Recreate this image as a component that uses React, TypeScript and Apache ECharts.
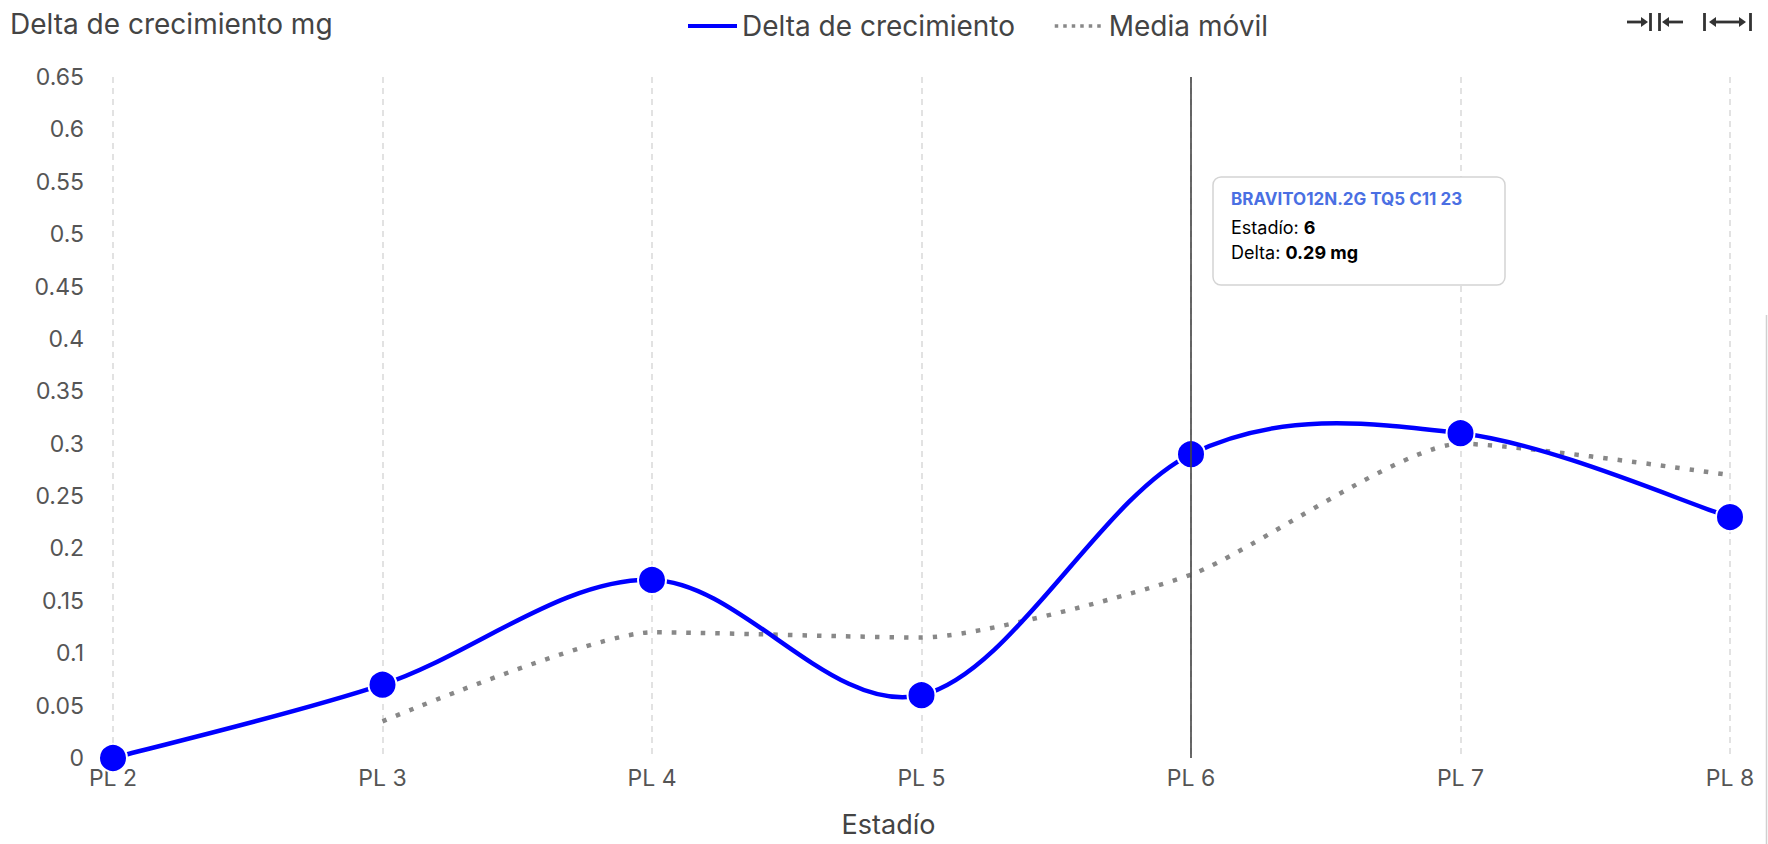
import React, { useEffect, useRef } from "react";
import * as echarts from "echarts";

// Growth stages on the x axis
const categories = ["PL 2", "PL 3", "PL 4", "PL 5", "PL 6", "PL 7", "PL 8"];
// Growth delta per stage (mg)
const deltaValues = [0, 0.07, 0.17, 0.06, 0.29, 0.31, 0.23];
// Two-point moving average of the delta (no value for the first stage)
const movingAvgValues = [null, 0.035, 0.12, 0.115, 0.175, 0.3, 0.27];

const yMin = 0;
const yMax = 0.65;
const yInterval = 0.05;

// Point shown in the pinned tooltip
const focusIndex = 4;
const lotName = "BRAVITO12N.2G TQ5 C11 23";

const FONT = "Inter, 'DM Sans', 'Noto Sans', sans-serif";
const BLUE = "#0000ff";
const GRAY = "#888888";
const TEXT = "#444";

// Catmull-Rom spline through pixel points, written as cubic Bézier path data
function catmullRomPath(pts: number[][]): string {
  if (!pts.length) return "";
  let d = `M${pts[0][0]},${pts[0][1]}`;
  for (let i = 0; i < pts.length - 1; i++) {
    const p0 = pts[Math.max(i - 1, 0)];
    const p1 = pts[i];
    const p2 = pts[i + 1];
    const p3 = pts[Math.min(i + 2, pts.length - 1)];
    const c1x = p1[0] + (p2[0] - p0[0]) / 6;
    const c1y = p1[1] + (p2[1] - p0[1]) / 6;
    const c2x = p2[0] - (p3[0] - p1[0]) / 6;
    const c2y = p2[1] - (p3[1] - p1[1]) / 6;
    d += ` C${c1x},${c1y} ${c2x},${c2y} ${p2[0]},${p2[1]}`;
  }
  return d;
}

export default function App() {
  const ref = useRef<HTMLDivElement>(null);

  useEffect(() => {
    if (!ref.current) return;
    const chart = echarts.init(ref.current, null, { renderer: "svg" });

    const option: any = {
      animation: false,
      backgroundColor: "#fff",
      textStyle: { fontFamily: FONT },
      title: {
        text: "Delta de crecimiento mg",
        left: 5,
        top: 5,
        textStyle: { fontFamily: FONT, fontSize: 28, fontWeight: "normal", color: TEXT },
      },
      legend: {
        left: 681,
        top: 7,
        itemWidth: 49,
        itemHeight: 14,
        itemGap: 38,
        textStyle: { fontFamily: FONT, fontSize: 28, color: TEXT },
        data: [
          {
            name: "Delta de crecimiento",
            itemStyle: { opacity: 0 },
            lineStyle: { width: 4, color: BLUE, opacity: 1 },
          },
          {
            name: "Media móvil",
            itemStyle: { opacity: 0 },
            lineStyle: { width: 3.5, color: GRAY, type: [3.5, 5], opacity: 1 },
          },
        ],
      },
      grid: { left: 113, right: 38, top: 77, bottom: 86, containLabel: false },
      xAxis: {
        type: "category",
        data: categories,
        boundaryGap: false,
        name: "Estadío",
        nameLocation: "middle",
        nameGap: 53,
        nameTextStyle: { fontFamily: FONT, fontSize: 27, color: TEXT, padding: [0, 66, 0, 0] },
        axisLine: { show: false },
        axisTick: { show: false },
        axisLabel: { fontFamily: FONT, fontSize: 23, color: "#555", margin: 8 },
        splitLine: {
          show: true,
          lineStyle: { color: "#d9d9d9", width: 1.5, type: [6, 5] },
        },
      },
      yAxis: {
        type: "value",
        min: yMin,
        max: yMax,
        interval: yInterval,
        axisLine: { show: false },
        axisTick: { show: false },
        splitLine: { show: false },
        axisLabel: { fontFamily: FONT, fontSize: 23, color: "#555", margin: 29 },
      },
      series: [
        {
          name: "Media móvil",
          type: "line",
          data: movingAvgValues,
          smooth: 0.2,
          symbol: "none",
          connectNulls: false,
          lineStyle: { color: GRAY, width: 4.5, type: [4.5, 10] },
          itemStyle: { color: GRAY },
          markLine: {
            silent: true,
            symbol: "none",
            label: { show: false },
            lineStyle: { color: "#444", width: 1.6, type: "solid" },
            data: [{ xAxis: categories[focusIndex] }],
          },
          z: 2,
        },
        // markers of the delta series (its curve is drawn by the custom series below)
        {
          name: "Delta de crecimiento",
          type: "line",
          data: deltaValues,
          symbol: "circle",
          symbolSize: 28,
          lineStyle: { color: BLUE, width: 0, opacity: 0 },
          itemStyle: { color: BLUE, borderColor: "#fff", borderWidth: 2 },
          z: 4,
        },
        {
          name: "Delta de crecimiento",
          type: "custom",
          silent: true,
          z: 3,
          encode: { x: 0, y: 1 },
          data: deltaValues.map((v, i) => [i, v]),
          renderItem: (params: any, api: any) => {
            if (params.dataIndex !== 0) return null;
            const pts = deltaValues.map((v, i) => api.coord([i, v]));
            return {
              type: "path",
              shape: { pathData: catmullRomPath(pts) },
              style: { fill: "none", stroke: BLUE, lineWidth: 4.5, lineJoin: "round", lineCap: "round" },
            };
          },
        },
      ],
    };

    chart.setOption(option);

    // Pin the tooltip next to the focused stage
    const [px] = chart.convertToPixel({ xAxisIndex: 0, yAxisIndex: 0 }, [
      categories[focusIndex],
      deltaValues[focusIndex],
    ]) as number[];
    const stageNumber = categories[focusIndex].replace("PL ", "");

    const arrowColor = "#333";
    const stroke = { stroke: arrowColor, lineWidth: 2.8 };

    chart.setOption({
      graphic: [
        {
          type: "group",
          x: px + 22,
          y: 177,
          z: 100,
          children: [
            {
              type: "rect",
              shape: { x: 0, y: 0, width: 292, height: 108, r: 8 },
              style: { fill: "#fff", stroke: "#d4d4d4", lineWidth: 1.5 },
            },
            {
              type: "text",
              x: 18,
              y: 22,
              style: {
                text: lotName,
                fill: "#4a6fe3",
                font: `bold 17px ${FONT}`,
                verticalAlign: "middle",
              },
            },
            {
              type: "text",
              x: 18,
              y: 50,
              style: {
                text: `{a|Estadío: }{b|${stageNumber}}`,
                verticalAlign: "middle",
                rich: {
                  a: { fontFamily: FONT, fontSize: 18, color: "#333" },
                  b: { fontFamily: FONT, fontSize: 18, fontWeight: "bold", color: "#111" },
                },
              },
            },
            {
              type: "text",
              x: 18,
              y: 75,
              style: {
                text: `{a|Delta: }{b|${deltaValues[focusIndex]} mg}`,
                verticalAlign: "middle",
                rich: {
                  a: { fontFamily: FONT, fontSize: 18, color: "#333" },
                  b: { fontFamily: FONT, fontSize: 18, fontWeight: "bold", color: "#111" },
                },
              },
            },
          ],
        },
        // collapse icon  →||←
        {
          type: "group",
          x: 1627,
          y: 13,
          children: [
            { type: "line", shape: { x1: 0, y1: 9, x2: 16, y2: 9 }, style: stroke },
            { type: "polygon", shape: { points: [[14, 4], [21, 9], [14, 14]] }, style: { fill: arrowColor } },
            { type: "line", shape: { x1: 23.5, y1: 0, x2: 23.5, y2: 18 }, style: stroke },
            { type: "line", shape: { x1: 32.5, y1: 0, x2: 32.5, y2: 18 }, style: stroke },
            { type: "polygon", shape: { points: [[42, 4], [35, 9], [42, 14]] }, style: { fill: arrowColor } },
            { type: "line", shape: { x1: 40, y1: 9, x2: 56, y2: 9 }, style: stroke },
          ],
        },
        // expand icon  |↔|
        {
          type: "group",
          x: 1704,
          y: 13,
          children: [
            { type: "line", shape: { x1: 0.5, y1: 0, x2: 0.5, y2: 18 }, style: stroke },
            { type: "polygon", shape: { points: [[12, 4], [5, 9], [12, 14]] }, style: { fill: arrowColor } },
            { type: "line", shape: { x1: 10, y1: 9, x2: 37, y2: 9 }, style: stroke },
            { type: "polygon", shape: { points: [[35, 4], [42, 9], [35, 14]] }, style: { fill: arrowColor } },
            { type: "line", shape: { x1: 46.5, y1: 0, x2: 46.5, y2: 18 }, style: stroke },
          ],
        },
        // thin frame edge on the right
        {
          type: "line",
          shape: { x1: 1766.5, y1: 315, x2: 1766.5, y2: 844 },
          style: { stroke: "#d0d0d0", lineWidth: 1.5 },
        },
      ],
    });

    return () => chart.dispose();
  }, []);

  return (
    <div
      ref={ref}
      style={{ position: "fixed", left: 0, top: 0, width: 1768, height: 844 }}
    />
  );
}
